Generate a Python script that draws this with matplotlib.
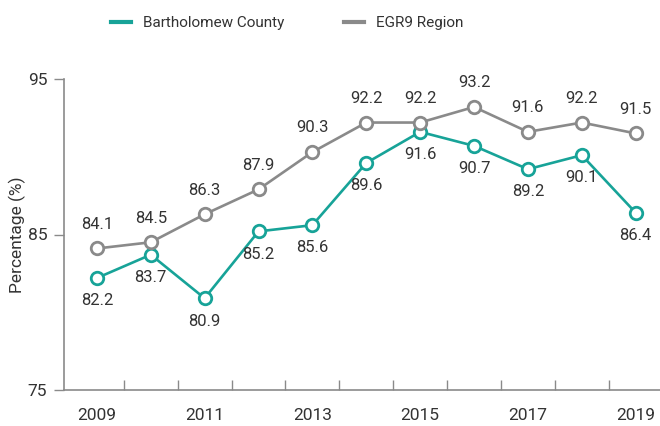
import matplotlib.pyplot as plt
import numpy as np

years = [2009, 2010, 2011, 2012, 2013, 2014, 2015, 2016, 2017, 2018, 2019]
county = [82.2, 83.7, 80.9, 85.2, 85.6, 89.6, 91.6, 90.7, 89.2, 90.1, 86.4]
region = [84.1, 84.5, 86.3, 87.9, 90.3, 92.2, 92.2, 93.2, 91.6, 92.2, 91.5]
year_labels = ["2009", "2011", "2013", "2015", "2017", "2019"]

TEAL = "#17a398"
GRAY = "#8a8a8a"
TXT = "#333333"

plt.rcParams['font.family'] = ['Roboto', 'DejaVu Sans']

fig = plt.figure(figsize=(6.6, 4.26), dpi=100)
ax = fig.add_axes([64 / 660, 36 / 426, 597 / 660, 311 / 426])

x = np.arange(len(years))
ax.plot(x, county, color=TEAL, lw=1.9, marker="o", ms=9, mfc="white",
        mec=TEAL, mew=2, label="Bartholomew County", zorder=3)
ax.plot(x, region, color=GRAY, lw=1.9, marker="o", ms=9, mfc="white",
        mec=GRAY, mew=2, label="EGR9 Region", zorder=3)

for xi, v in zip(x, region):
    ax.annotate(f"{v}", (xi, v), xytext=(0, 12), textcoords="offset points",
                ha="center", va="bottom", fontsize=12, color=TXT)
for xi, v in zip(x, county):
    ax.annotate(f"{v}", (xi, v), xytext=(0, -11), textcoords="offset points",
                ha="center", va="top", fontsize=12, color=TXT)

ax.set_xlim(-0.61, 10.47)
ax.set_ylim(75, 95)

ax.set_xticks(x[::2])
ax.set_xticklabels(year_labels, fontsize=12.5, color=TXT)
ax.set_xticks(np.arange(0.5, 10, 1), minor=True)
ax.tick_params(axis="x", which="major", length=0, pad=13)
ax.tick_params(axis="x", which="minor", length=7, width=1, direction="in", color=GRAY)

ax.set_yticks([75, 85, 95])
ax.set_yticklabels(["75", "85", "95"], fontsize=12.5, color=TXT)
ax.tick_params(axis="y", length=7, width=1, color=GRAY, pad=5)
ax.set_ylabel("Percentage (%)", fontsize=12.5, color=TXT, labelpad=1)

for s in ["top", "right"]:
    ax.spines[s].set_visible(False)
for s in ["left", "bottom"]:
    ax.spines[s].set_color(GRAY)
    ax.spines[s].set_linewidth(1.2)

handles = [plt.Line2D([], [], color=TEAL, lw=3),
           plt.Line2D([], [], color=GRAY, lw=3)]
fig.legend(handles, ["Bartholomew County", "EGR9 Region"], loc="center left",
           bbox_to_anchor=(97 / 660, 1 - 23 / 426), ncol=2, frameon=False,
           fontsize=11, handlelength=1.35, handletextpad=0.75,
           columnspacing=3.9, labelcolor=TXT)

fig.savefig("out.png", dpi=100)
